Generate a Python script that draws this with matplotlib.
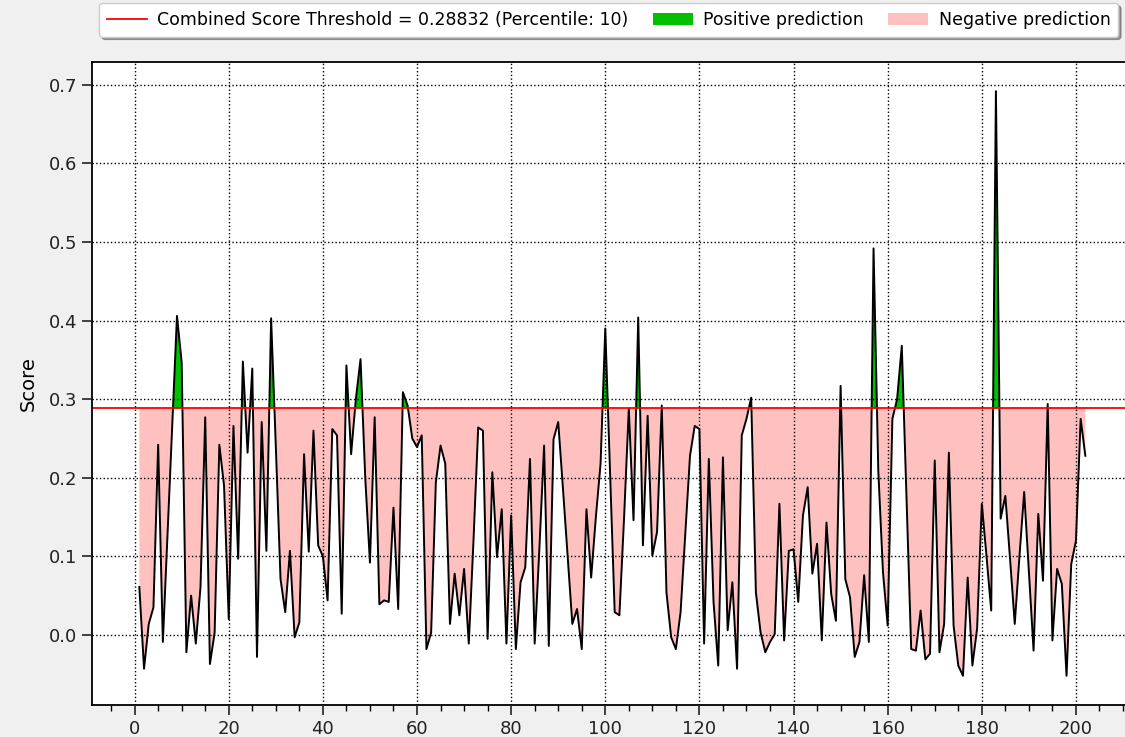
import numpy as np
import matplotlib
matplotlib.use("Agg")
import matplotlib.pyplot as plt
from matplotlib.patches import Patch
from matplotlib.lines import Line2D
from matplotlib.ticker import MultipleLocator

threshold = 0.28832
scores = [
    0.061, -0.043, 0.014, 0.035, 0.242, -0.009, 0.13, 0.27, 0.406, 0.347,
    -0.022, 0.05, -0.011, 0.061, 0.277, -0.037, 0.003, 0.242, 0.19, 0.02,
    0.266, 0.097, 0.348, 0.232, 0.339, -0.028, 0.271, 0.107, 0.403, 0.24,
    0.071, 0.029, 0.107, -0.003, 0.016, 0.23, 0.106, 0.26, 0.114, 0.10,
    0.044, 0.262, 0.254, 0.027, 0.343, 0.23, 0.30, 0.351, 0.20, 0.092,
    0.277, 0.039, 0.044, 0.042, 0.162, 0.033, 0.309, 0.292, 0.25, 0.239,
    0.254, -0.018, 0.003, 0.194, 0.241, 0.218, 0.014, 0.078, 0.025, 0.084,
    -0.011, 0.12, 0.264, 0.26, -0.005, 0.207, 0.099, 0.16, -0.011, 0.152,
    -0.018, 0.067, 0.086, 0.224, -0.011, 0.11, 0.241, -0.014, 0.249, 0.271,
    0.187, 0.10, 0.014, 0.033, -0.018, 0.16, 0.073, 0.15, 0.218, 0.39,
    0.21, 0.029, 0.025, 0.15, 0.288, 0.146, 0.404, 0.114, 0.279, 0.101,
    0.131, 0.292, 0.054, -0.003, -0.018, 0.029, 0.129, 0.228, 0.266, 0.262,
    -0.011, 0.224, 0.042, -0.039, 0.226, 0.006, 0.067, -0.043, 0.254, 0.275,
    0.302, 0.054, 0.003, -0.022, -0.009, 0.001, 0.167, -0.007, 0.107, 0.109,
    0.042, 0.152, 0.188, 0.078, 0.116, -0.007, 0.143, 0.052, 0.018, 0.317,
    0.071, 0.048, -0.028, -0.009, 0.076, -0.009, 0.492, 0.21, 0.08, 0.012,
    0.275, 0.30, 0.368, 0.173, -0.018, -0.02, 0.031, -0.031, -0.024, 0.222,
    -0.022, 0.014, 0.232, 0.012, -0.039, -0.052, 0.073, -0.039, 0.008, 0.167,
    0.10, 0.031, 0.692, 0.148, 0.177, 0.097, 0.014, 0.10, 0.182, 0.08,
    -0.02, 0.154, 0.069, 0.294, -0.007, 0.084, 0.065, -0.052, 0.09, 0.12,
    0.275, 0.228,
]
positions = list(range(1, len(scores) + 1))

legend_labels = [
    "Combined Score Threshold = 0.28832 (Percentile: 10)",
    "Positive prediction",
    "Negative prediction",
]

x = np.array(positions)
y = np.array(scores)

fig = plt.figure(figsize=(11.25, 7.37), dpi=100, facecolor="#f0f0f0")
ax = fig.add_axes([0.0818, 0.0434, 0.925, 0.8725])
ax.set_facecolor("white")

green = "#00c000"
pink = "#ffc0c0"
ax.fill_between(x, y, threshold, where=y >= threshold, interpolate=True,
                color=green, linewidth=0)
ax.fill_between(x, y, threshold, where=y <= threshold, interpolate=True,
                color=pink, linewidth=0)
ax.plot(x, y, color="black", linewidth=1.4)
ax.axhline(threshold, color="red", linewidth=1.3)

ax.margins(x=0.05, y=0.05)
ax.xaxis.set_major_locator(MultipleLocator(20))
ax.xaxis.set_minor_locator(MultipleLocator(5))
ax.yaxis.set_major_locator(MultipleLocator(0.1))
ax.grid(True, which="major", linestyle=":", color="black", linewidth=1.0)
ax.tick_params(axis="both", which="major", labelsize=13, direction="out",
               length=7, width=1.2, colors="#222222")
ax.tick_params(axis="x", which="minor", direction="out", length=4, width=1.0)
for s in ax.spines.values():
    s.set_linewidth(1.3)
ax.set_ylabel("Score", fontsize=14, labelpad=8)
ax.set_axisbelow(False)

handles = [
    Line2D([0], [0], color="red", linewidth=1.3),
    Patch(facecolor=green, edgecolor="none"),
    Patch(facecolor=pink, edgecolor="none"),
]
fig.legend(handles, legend_labels, loc="upper center", ncol=3,
           bbox_to_anchor=(0.541, 1.003), fontsize=12.5, shadow=True,
           frameon=True, fancybox=True, framealpha=1.0,
           columnspacing=1.4, handlelength=2.3, handletextpad=0.6,
           borderpad=0.45, borderaxespad=0.3)

fig.savefig("out.png", dpi=100, facecolor=fig.get_facecolor())
